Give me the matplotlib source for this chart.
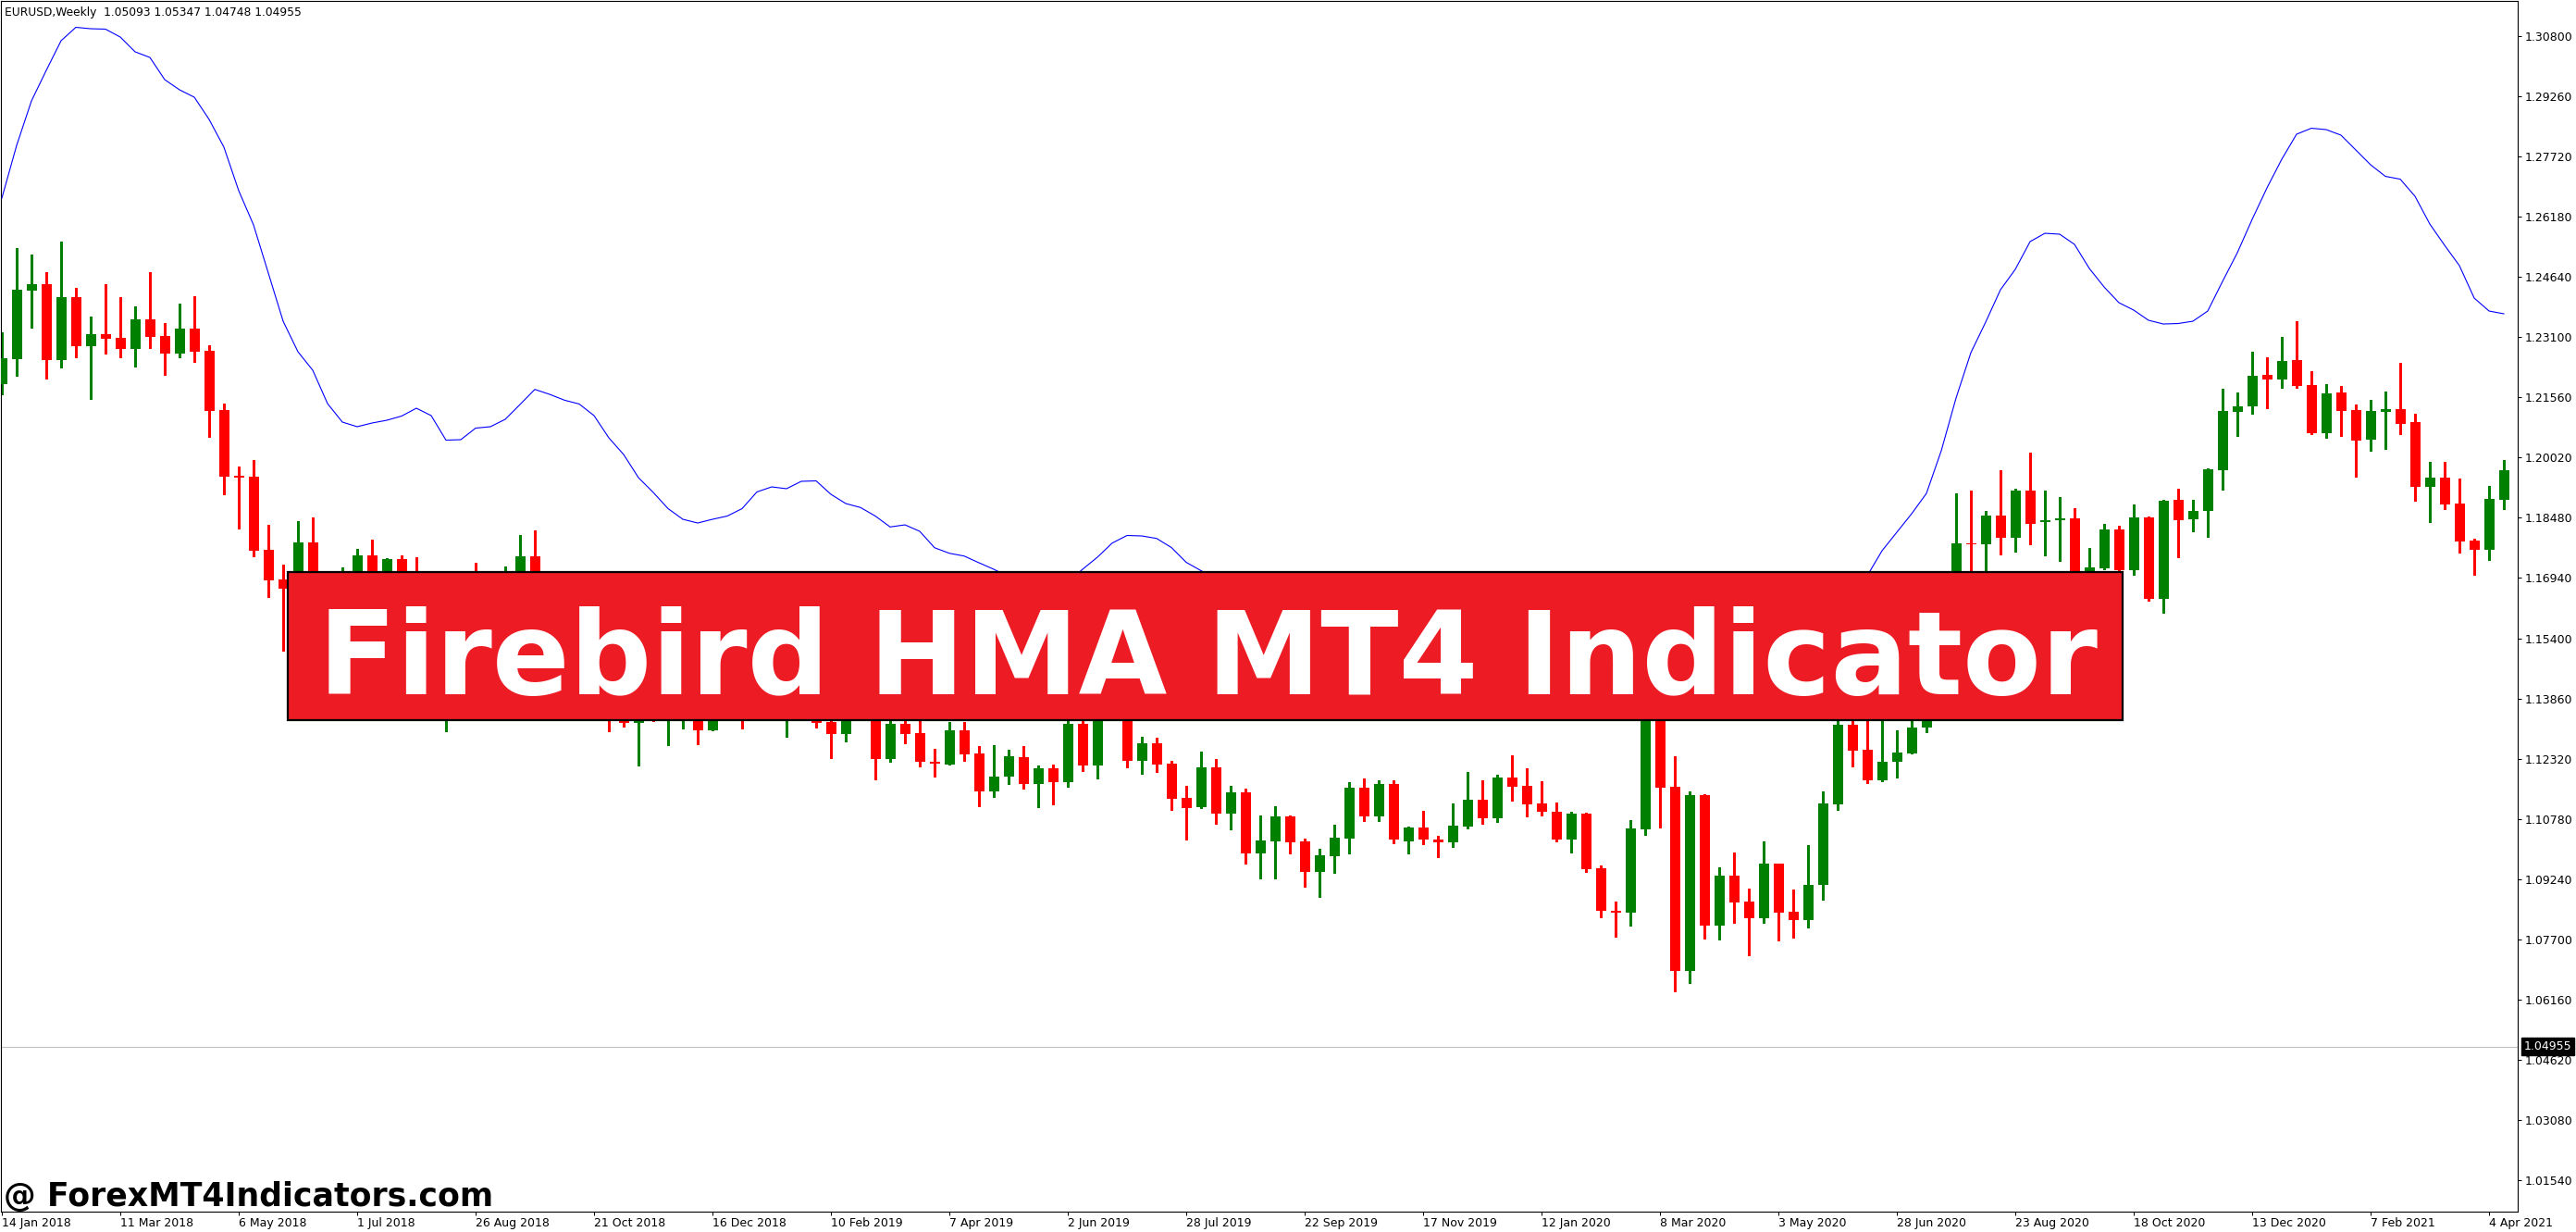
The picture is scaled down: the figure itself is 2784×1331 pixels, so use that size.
import matplotlib
matplotlib.use("Agg")
import matplotlib.pyplot as plt
from matplotlib.patches import Rectangle
from matplotlib.transforms import blended_transform_factory

plt.rcParams['font.family'] = ['DejaVu Sans']

# ---------------- data (EURUSD weekly) ----------------
OPEN = [1.2191, 1.2253, 1.2429, 1.2445, 1.2252, 1.2413, 1.2287, 1.2318, 1.2308, 1.2280,
        1.2356, 1.2313, 1.2268, 1.2332, 1.2275, 1.2123, 1.1955, 1.1953, 1.1766, 1.1690,
        1.1658, 1.1785, 1.1608, 1.1658, 1.1684, 1.1751, 1.1686, 1.1742, 1.1657, 1.1568,
        1.1409, 1.1438, 1.1622, 1.1602, 1.1550, 1.1625, 1.1749, 1.1605, 1.1524, 1.1560,
        1.1512, 1.1402, 1.1388, 1.1324, 1.1415, 1.1337, 1.1345, 1.1380, 1.1305, 1.1370,
        1.1443, 1.1395, 1.1468, 1.1364, 1.1410, 1.1455, 1.1326, 1.1296, 1.1340, 1.1365,
        1.1232, 1.1321, 1.1297, 1.1224, 1.1218, 1.1305, 1.1245, 1.1149, 1.1185, 1.1236,
        1.1166, 1.1207, 1.1173, 1.1321, 1.1215, 1.1372, 1.1370, 1.1227, 1.1271, 1.1219,
        1.1132, 1.1109, 1.1210, 1.1092, 1.1146, 1.0990, 1.1021, 1.1084, 1.1020, 1.0943,
        1.0983, 1.1028, 1.1158, 1.1085, 1.1167, 1.1021, 1.1056, 1.1025, 1.1019, 1.1059,
        1.1127, 1.1080, 1.1184, 1.1162, 1.1117, 1.1096, 1.1026, 1.1091, 1.0952, 1.0843,
        1.0839, 1.1052, 1.1370, 1.1160, 1.0689, 1.1138, 1.0806, 1.0933, 1.0866, 1.0823,
        1.0964, 1.0841, 1.0820, 1.0908, 1.1116, 1.1319, 1.1255, 1.1177, 1.1223, 1.1246,
        1.1311, 1.1430, 1.1655, 1.1783, 1.1781, 1.1854, 1.1798, 1.1917, 1.1836, 1.1841,
        1.1847, 1.1632, 1.1719, 1.1818, 1.1714, 1.1849, 1.1641, 1.1894, 1.1845, 1.1866,
        1.1970, 1.2119, 1.2133, 1.2214, 1.2202, 1.2251, 1.2188, 1.2065, 1.2169, 1.2124,
        1.2048, 1.2119, 1.2126, 1.2093, 1.1926, 1.1951, 1.1885, 1.1790, 1.1767, 1.1895]

HIGH = [1.2322, 1.2537, 1.2521, 1.2476, 1.2555, 1.2436, 1.2363, 1.2445, 1.2413, 1.2389,
        1.2476, 1.2346, 1.2395, 1.2414, 1.2290, 1.2140, 1.1979, 1.1996, 1.1830, 1.1728,
        1.1839, 1.1850, 1.1676, 1.1721, 1.1768, 1.1792, 1.1745, 1.1751, 1.1747, 1.1609,
        1.1445, 1.1660, 1.1734, 1.1675, 1.1723, 1.1803, 1.1816, 1.1609, 1.1609, 1.1621,
        1.1548, 1.1456, 1.1500, 1.1420, 1.1473, 1.1400, 1.1442, 1.1442, 1.1486, 1.1474,
        1.1500, 1.1570, 1.1487, 1.1420, 1.1514, 1.1470, 1.1340, 1.1370, 1.1420, 1.1380,
        1.1340, 1.1345, 1.1338, 1.1256, 1.1326, 1.1326, 1.1265, 1.1267, 1.1255, 1.1265,
        1.1214, 1.1217, 1.1348, 1.1348, 1.1380, 1.1412, 1.1380, 1.1288, 1.1286, 1.1226,
        1.1162, 1.1250, 1.1231, 1.1162, 1.1155, 1.1087, 1.1110, 1.1087, 1.1027, 1.1001,
        1.1063, 1.1172, 1.1181, 1.1177, 1.1177, 1.1058, 1.1098, 1.1035, 1.1117, 1.1198,
        1.1177, 1.1191, 1.1241, 1.1207, 1.1174, 1.1120, 1.1096, 1.1093, 1.0959, 1.0866,
        1.1075, 1.1450, 1.1496, 1.1238, 1.1148, 1.1141, 1.0954, 1.0992, 1.0900, 1.1021,
        1.0964, 1.0897, 1.1011, 1.1148, 1.1384, 1.1422, 1.1348, 1.1349, 1.1304, 1.1375,
        1.1452, 1.1660, 1.1910, 1.1917, 1.1866, 1.1969, 1.1922, 1.2014, 1.1917, 1.1902,
        1.1873, 1.1771, 1.1832, 1.1828, 1.1882, 1.1851, 1.1894, 1.1922, 1.1894, 1.1975,
        1.2178, 1.2169, 1.2273, 1.2259, 1.2311, 1.2351, 1.2223, 1.2190, 1.2185, 1.2138,
        1.2150, 1.2171, 1.2244, 1.2114, 1.1991, 1.1991, 1.1948, 1.1795, 1.1930, 1.1996]

LOW = [1.2165, 1.2211, 1.2335, 1.2204, 1.2233, 1.2259, 1.2153, 1.2268, 1.2259, 1.2234,
       1.2283, 1.2214, 1.2259, 1.2246, 1.2055, 1.1908, 1.1820, 1.1749, 1.1645, 1.1509,
       1.1645, 1.1541, 1.1508, 1.1527, 1.1591, 1.1614, 1.1575, 1.1614, 1.1530, 1.1365,
       1.1302, 1.1431, 1.1600, 1.1527, 1.1526, 1.1613, 1.1572, 1.1462, 1.1430, 1.1433,
       1.1336, 1.1301, 1.1314, 1.1215, 1.1327, 1.1267, 1.1310, 1.1269, 1.1304, 1.1360,
       1.1310, 1.1390, 1.1360, 1.1288, 1.1405, 1.1312, 1.1234, 1.1275, 1.1335, 1.1178,
       1.1223, 1.1272, 1.1211, 1.1185, 1.1217, 1.1227, 1.1111, 1.1135, 1.1166, 1.1156,
       1.1107, 1.1115, 1.1161, 1.1201, 1.1182, 1.1345, 1.1209, 1.1194, 1.1199, 1.1102,
       1.1026, 1.1106, 1.1066, 1.1052, 1.0964, 1.0926, 1.0926, 1.0990, 1.0905, 1.0879,
       1.0941, 1.0990, 1.1073, 1.1073, 1.1016, 1.0990, 1.1013, 1.0981, 1.1005, 1.1054,
       1.1066, 1.1071, 1.1125, 1.1085, 1.1087, 1.1021, 1.0993, 1.0943, 1.0827, 1.0777,
       1.0806, 1.1038, 1.1057, 1.0636, 1.0659, 1.0772, 1.0770, 1.0813, 1.0728, 1.0811,
       1.0768, 1.0775, 1.0801, 1.0872, 1.1101, 1.1213, 1.1169, 1.1175, 1.1184, 1.1246,
       1.1300, 1.1420, 1.1630, 1.1696, 1.1709, 1.1755, 1.1761, 1.1781, 1.1753, 1.1738,
       1.1612, 1.1600, 1.1716, 1.1705, 1.1703, 1.1637, 1.1604, 1.1746, 1.1814, 1.1799,
       1.1920, 1.2057, 1.2114, 1.2128, 1.2180, 1.2180, 1.2063, 1.2053, 1.2057, 1.1952,
       1.2020, 1.2023, 1.2063, 1.1892, 1.1836, 1.1871, 1.1760, 1.1703, 1.1739, 1.1871]

CLOSE = [1.2256, 1.2432, 1.2445, 1.2252, 1.2413, 1.2287, 1.2318, 1.2307, 1.2280, 1.2356,
         1.2310, 1.2268, 1.2332, 1.2273, 1.2121, 1.1953, 1.1950, 1.1764, 1.1688, 1.1667,
         1.1785, 1.1608, 1.1658, 1.1684, 1.1751, 1.1686, 1.1742, 1.1657, 1.1568, 1.1409,
         1.1438, 1.1622, 1.1602, 1.1550, 1.1625, 1.1749, 1.1605, 1.1524, 1.1560, 1.1512,
         1.1402, 1.1388, 1.1324, 1.1415, 1.1337, 1.1345, 1.1380, 1.1305, 1.1370, 1.1443,
         1.1395, 1.1468, 1.1364, 1.1410, 1.1455, 1.1324, 1.1294, 1.1331, 1.1365, 1.1232,
         1.1321, 1.1296, 1.1223, 1.1219, 1.1305, 1.1244, 1.1149, 1.1186, 1.1238, 1.1166,
         1.1207, 1.1172, 1.1321, 1.1215, 1.1370, 1.1370, 1.1227, 1.1271, 1.1218, 1.1130,
         1.1106, 1.1210, 1.1092, 1.1146, 1.0990, 1.1023, 1.1084, 1.1019, 1.0943, 1.0985,
         1.1030, 1.1158, 1.1085, 1.1167, 1.1024, 1.1056, 1.1024, 1.1019, 1.1061, 1.1127,
         1.1080, 1.1184, 1.1161, 1.1116, 1.1095, 1.1026, 1.1091, 1.0949, 1.0842, 1.0839,
         1.1053, 1.1370, 1.1158, 1.0689, 1.1138, 1.0806, 1.0933, 1.0865, 1.0823, 1.0964,
         1.0839, 1.0820, 1.0910, 1.1118, 1.1319, 1.1253, 1.1177, 1.1224, 1.1248, 1.1311,
         1.1427, 1.1655, 1.1783, 1.1780, 1.1854, 1.1798, 1.1917, 1.1833, 1.1841, 1.1847,
         1.1631, 1.1721, 1.1818, 1.1714, 1.1849, 1.1641, 1.1892, 1.1842, 1.1866, 1.1972,
         1.2121, 1.2133, 1.2211, 1.2202, 1.2249, 1.2185, 1.2065, 1.2166, 1.2121, 1.2046,
         1.2121, 1.2126, 1.2089, 1.1926, 1.1951, 1.1883, 1.1788, 1.1767, 1.1896, 1.1970]

HMA = [1.26657, 1.28006, 1.29143, 1.29924, 1.30682, 1.31025, 1.30989, 1.30978, 1.30776, 1.30398,
       1.30255, 1.29687, 1.29427, 1.29238, 1.28669, 1.27959, 1.26846, 1.25971, 1.24739, 1.23508,
       1.22727, 1.22254, 1.21401, 1.20928, 1.20810, 1.20904, 1.20975, 1.21082, 1.21283, 1.21094,
       1.20466, 1.20478, 1.20774, 1.20810, 1.20999, 1.21378, 1.21764, 1.21638, 1.21489, 1.21390,
       1.21094, 1.20525, 1.20099, 1.19507, 1.19129, 1.18715, 1.18442, 1.18347, 1.18442, 1.18525,
       1.18715, 1.19141, 1.19271, 1.19224, 1.19413, 1.19425, 1.19081, 1.18845, 1.18743, 1.18525,
       1.18246, 1.18300, 1.18135, 1.17715, 1.17573, 1.17502, 1.17330, 1.17164, 1.16974, 1.16832,
       1.16738, 1.16738, 1.16832, 1.17164, 1.17472, 1.17834, 1.18028, 1.18016, 1.17952, 1.17720,
       1.17341, 1.17128, 1.16927, 1.16761, 1.16572, 1.16383, 1.16193, 1.16051, 1.15909, 1.15743,
       1.15578, 1.15436, 1.15388, 1.15388, 1.15341, 1.15270, 1.15152, 1.15033, 1.15010, 1.15057,
       1.15152, 1.15246, 1.15294, 1.15294, 1.15223, 1.15104, 1.14962, 1.14820, 1.14631, 1.14441,
       1.14299, 1.14252, 1.14299, 1.14204, 1.14157, 1.14110, 1.14086, 1.14110, 1.14157, 1.14252,
       1.14394, 1.14631, 1.14962, 1.15388, 1.15909, 1.16454, 1.16998, 1.17637, 1.18111, 1.18584,
       1.19105, 1.20194, 1.21544, 1.22703, 1.23485, 1.24313, 1.24834, 1.25544, 1.25757, 1.25734,
       1.25473, 1.24858, 1.24384, 1.23982, 1.23792, 1.23532, 1.23437, 1.23449, 1.23508, 1.23769,
       1.24526, 1.25260, 1.26113, 1.26917, 1.27651, 1.28291, 1.28444, 1.28409, 1.28267, 1.27888,
       1.27509, 1.27213, 1.27142, 1.26704, 1.25994, 1.25450, 1.24929, 1.24100, 1.23769, 1.23698]

DATE_LABELS = ['14 Jan 2018', '11 Mar 2018', '6 May 2018', '1 Jul 2018', '26 Aug 2018',
               '21 Oct 2018', '16 Dec 2018', '10 Feb 2019', '7 Apr 2019', '2 Jun 2019',
               '28 Jul 2019', '22 Sep 2019', '17 Nov 2019', '12 Jan 2020', '8 Mar 2020',
               '3 May 2020', '28 Jun 2020', '23 Aug 2020', '18 Oct 2020', '13 Dec 2020',
               '7 Feb 2021', '4 Apr 2021']
DATE_BARS = [0, 8, 16, 24, 32, 40, 48, 56, 64, 72, 80, 88, 96, 104, 112, 120, 128, 136,
             144, 152, 160, 168]

PRICE_TICKS = [1.01540, 1.03080, 1.04620, 1.06160, 1.07700, 1.09240, 1.10780, 1.12320,
               1.13860, 1.15400, 1.16940, 1.18480, 1.20020, 1.21560, 1.23100, 1.24640,
               1.26180, 1.27720, 1.29260, 1.30800]
PRICE_LABELS = ['1.01540', '1.03080', '1.04620', '1.06160', '1.07700', '1.09240', '1.10780',
                '1.12320', '1.13860', '1.15400', '1.16940', '1.18480', '1.20020', '1.21560',
                '1.23100', '1.24640', '1.26180', '1.27720', '1.29260', '1.30800']

BID = 1.04955
HEADER = "EURUSD,Weekly  1.05093 1.05347 1.04748 1.04955"
TITLE = "Firebird HMA MT4 Indicator"
WATERMARK = "@ ForexMT4Indicators.com"

# ---------------- figure ----------------
W, H = 2784, 1331
fig = plt.figure(figsize=(W / 100, H / 100), dpi=100)
fig.patch.set_facecolor('white')


def fxp(px):
    return px / W


def fyp(py):
    return 1 - py / H


ax = fig.add_axes([fxp(1), fyp(1309), (2721 - 1) / W, (1309 - 1) / H])
ax.set_facecolor('white')
ax.set_xlim(-0.0625, 169.9375)
ax.set_ylim(1.00734, 1.31700)

GREEN = '#008000'
RED = '#FF0000'
n = len(OPEN)
xs = list(range(n))
colors = [GREEN if c >= o else RED for o, c in zip(OPEN, CLOSE)]
bottoms = [min(o, c) for o, c in zip(OPEN, CLOSE)]
heights = [max(abs(c - o), 0.00035) for o, c in zip(OPEN, CLOSE)]

ax.vlines(xs, LOW, HIGH, colors=colors, linewidth=0.75, antialiased=False, zorder=2)
ax.bar(xs, heights, bottom=bottoms, width=0.6875, color=colors, linewidth=0,
       antialiased=False, zorder=3)
ax.plot(xs, HMA, color='#0000FF', linewidth=0.8, zorder=4)
ax.axhline(BID, color='#C0C0C0', linewidth=0.8, zorder=1)

for s in ax.spines.values():
    s.set_color('black')
    s.set_linewidth(0.8)

ax.set_xticks(DATE_BARS)
ax.set_xticklabels(DATE_LABELS, ha='left')
ax.tick_params(axis='x', direction='out', length=3, width=0.75, pad=1.5,
               labelsize=9, colors='black')
ax.yaxis.tick_right()
ax.set_yticks(PRICE_TICKS)
ax.set_yticklabels(PRICE_LABELS)
ax.tick_params(axis='y', direction='out', length=3, width=0.75, pad=2.2,
               labelsize=9, colors='black')

# bid label on the price scale
tr = blended_transform_factory(ax.transAxes, ax.transData)
ax.text(1.0025, BID, "1.04955", transform=tr, ha='left', va='center', fontsize=9,
        color='white', clip_on=False, zorder=6,
        bbox=dict(boxstyle='square,pad=0.22', facecolor='black', edgecolor='black'))

# header
ax.text(4 / 2720, 1 - 12 / 1308, HEADER, transform=ax.transAxes, ha='left',
        va='center', fontsize=8.8, color='black', zorder=6)

# banner
banner = Rectangle((fxp(311), fyp(778)), (2294 - 311) / W, (778 - 618) / H,
                   transform=fig.transFigure, facecolor='#ED1C24',
                   edgecolor='black', linewidth=1.6, zorder=10)
fig.add_artist(banner)
fig.text(fxp(1305), fyp(750), TITLE, ha='center', va='baseline', fontsize=89,
         fontweight='bold', color='white', family='DejaVu Sans', zorder=11)

# watermark
fig.text(fxp(4), fyp(1303), WATERMARK, ha='left', va='baseline', fontsize=25,
         fontweight='bold', color='black', family='DejaVu Sans', zorder=11)

fig.savefig('out.png', dpi=100, facecolor='white')
